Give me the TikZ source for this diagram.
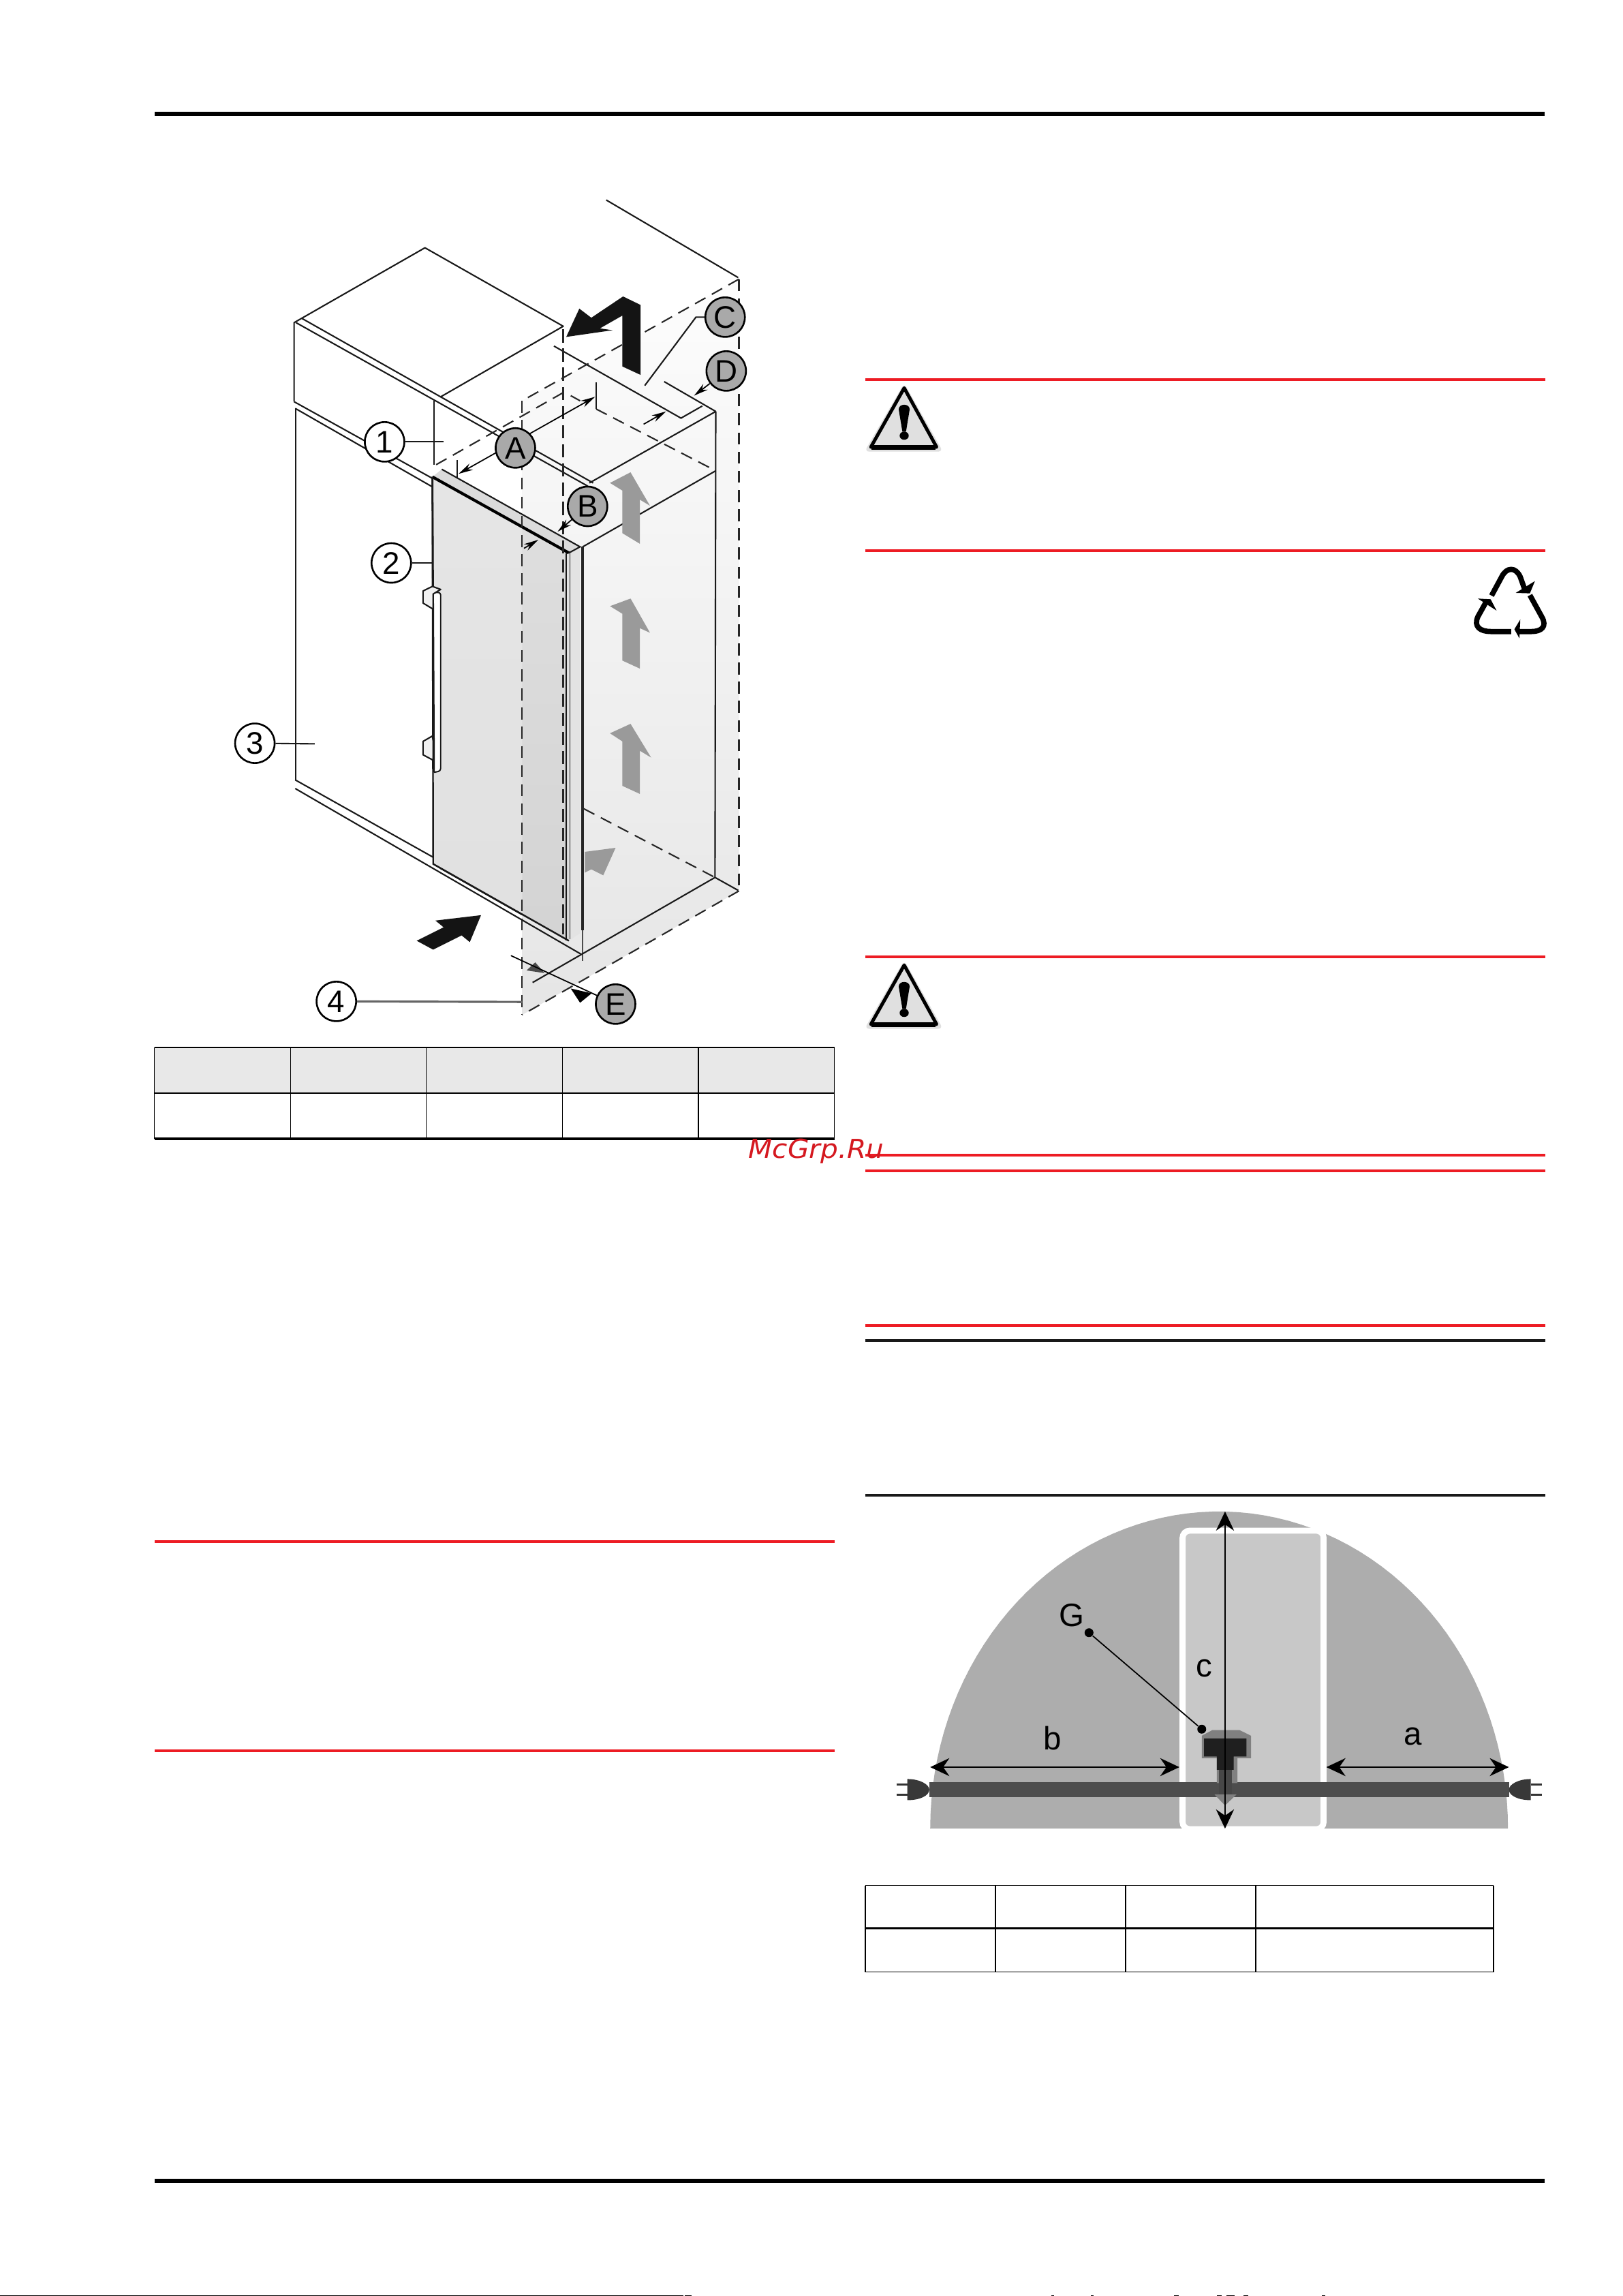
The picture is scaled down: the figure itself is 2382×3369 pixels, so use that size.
\documentclass[tikz,border=0pt]{standalone}
\usepackage{fontspec}
\setmainfont{Liberation Sans}
\newfontfamily\wmfont{DejaVu Sans}
\usetikzlibrary{arrows.meta,shapes.geometric}
\definecolor{redrule}{HTML}{ED1C24}
\definecolor{hdr}{HTML}{E8E8E8}
\definecolor{bub}{HTML}{A9A9A9}
\definecolor{dome}{HTML}{ADADAD}
\definecolor{slab}{HTML}{C8C8C8}
\definecolor{cable}{HTML}{4D4D4D}
\definecolor{upar}{HTML}{9A9A9A}
\tikzset{
 zA/.style={shift={(300,260)},xscale=.5486,yscale=.4464},
 zB/.style={shift={(300,900)},xscale=.5486,yscale=.3954},
 zC/.style={shift={(1250,2180)},xscale=.6698,yscale=.4847},
 zD/.style={shift={(1250,530)},xscale=.6698,yscale=.3333},
 ln/.style={line width=.6pt,black!90},
 dsh/.style={line width=.6pt,black!85,dash pattern=on 5pt off 3pt},
 dshb/.style={line width=.8pt,black!85,dash pattern=on 5.5pt off 2.5pt},
 dimtip/.style={line width=.5pt,-{Stealth[length=6pt,width=3pt]}},
 dimboth/.style={line width=.5pt,{Stealth[length=6pt,width=3pt]}-{Stealth[length=6pt,width=3pt]}},
 numbub/.style={circle,draw,line width=.75pt,fill=white,minimum size=.58cm,inner sep=0pt,font=\fontsize{13}{15}\selectfont},
 letbub/.style={circle,draw,line width=.75pt,fill=bub,minimum size=.58cm,inner sep=0pt,font=\fontsize{13}{15}\selectfont},
 domelab/.style={inner sep=0pt,font=\fontsize{13.5}{15}\selectfont},
 dot/.style={circle,fill=black,minimum size=.13cm,inner sep=0pt},
 bigdim/.style={line width=.6pt,{Stealth[length=8pt,width=7.5pt]}-{Stealth[length=8pt,width=7.5pt]}},
 cellline/.style={line width=.5pt,black},
 uparrow/.style={fill=upar,draw=none},
 recy/.style={line width=2.2pt,line join=round},
}
\begin{document}
\begin{tikzpicture}[x=.01cm,y=-.01cm]
\useasboundingbox (0,0) rectangle (2382,3369);
\fill[white] (0,0) rectangle (2382,3369);

% page rules
\fill[black] (226.5,164) rectangle (2267,170);
\fill[black] (226.5,3197) rectangle (2267,3203);
\foreach \yy in {557,808,1404,1695,1718,1945}
  \fill[redrule] (1270,\yy-2) rectangle (2268,\yy+2);
\foreach \yy in {2262,2569}
  \fill[redrule] (226.5,\yy-2) rectangle (1224.5,\yy+2);
\fill[black!90] (1270,1965) rectangle (2268,1969);
\fill[black!90] (1270,2192) rectangle (2268,2196);
\fill[black] (0,3367.6) rectangle (1003,3369);
\foreach \xa/\xb in {1005/1015,1543/1547,1601/1605,1723/1730,1786/1793,1800/1812,1825/1832,1940/1945}
  \fill[black] (\xa,3367.6) rectangle (\xb,3369);

% shared coordinates of the cabinet drawing
\begin{scope}[zA]
 \coordinate (sTL) at (850,735);
 \coordinate (sTR) at (1430,335);
 \coordinate (v1t) at (960,500);
 \coordinate (v2t) at (1368,770);
 \coordinate (lt)  at (245,760);
 \coordinate (dTL) at (610,985);
 \coordinate (dTR) at (970,1235);
 \coordinate (dSR) at (1005,1215);
 \coordinate (dStrip) at (850,1152);
 \coordinate (thickT) at (1012,1215);
 \coordinate (h1) at (632,1365);
 \coordinate (h2) at (612,1365);
 \coordinate (x1) at (968,1237);
 \coordinate (x2) at (978,1232);
 \coordinate (up2a) at (1140,1385);
 \coordinate (up2b) at (1085,1410);
 \coordinate (up2c) at (1118,1435);
 \coordinate (up2d) at (1165,1435);
\end{scope}
\begin{scope}[zB]
 \coordinate (sBR) at (1430,1030);
 \coordinate (sBL) at (850,1490);
 \coordinate (v1b) at (960,1190);
 \coordinate (v2b) at (1366,980);
 \coordinate (lb)  at (245,620);
 \coordinate (dBL) at (612,930);
 \coordinate (dBR) at (975,1215);
 \coordinate (dSB) at (1005,1187);
 \coordinate (dStripB) at (850,1118);
 \coordinate (thickB) at (1012,1175);
 \coordinate (thinB) at (1012,1290);
 \coordinate (h1b) at (632,585);
 \coordinate (h2b) at (614,590);
 \coordinate (x1b) at (968,1213);
 \coordinate (x2b) at (978,1210);
\end{scope}

% translucent clearance shaft
\shade[top color=black!1,bottom color=black!10] (sTL) -- (sTR) -- (sBR) -- (sBL) -- cycle;

% upper cabinet lines
\begin{scope}[zA]
 \draw[ln,line join=round] (240,738) -- (240,478) -- (590,232) -- (960,490) -- (632,722) -- (262,465);
 \draw[ln] (245,478) -- (1025,1015);
 \draw[ln] (632,722) -- (1040,1005);
 \draw[ln] (615,735) -- (615,945);
 \draw[ln] (240,738) -- (610,990);
 \draw[ln] (243,760) -- (610,1018);
 \draw[ln] (1075,75) -- (1428,330);
 \draw[ln] (935,555) -- (1275,792) -- (1332,752);
 \draw[ln] (1230,672) -- (1368,770);
 \draw[ln] (1368,770) -- (1030,1005);
 \draw[ln] (1368,965) -- (1012,1215);
 \draw[dsh] (620,945) -- (960,708);
 \draw[dsh] (980,718) -- (1005,735);
 \draw[dsh] (1048,762) -- (1368,965);
 \draw[ln] (1048,675) -- (1048,762);
 \draw[ln] (677,930) -- (677,1088);
\end{scope}
\draw[ln] (lt) -- (lb);
\draw[ln] (v2t) -- (v2b);

% door
\shade[top color=black!10,bottom color=black!12] (dTL) -- (dTR) -- (dBR) -- (dBL) -- cycle;
\shade[top color=black!13,bottom color=black!17] (dStrip) -- (dTR) -- (dBR) -- (dStripB) -- cycle;
\fill[black!11] (dTR) -- (dSR) -- (dSB) -- (dBR) -- cycle;
\begin{scope}[zA]
 \fill[black!14] (610,985) -- (635,960) -- (1005,1215) -- (975,1235) -- cycle;
 \draw[line width=1.2pt] (610,985) -- (975,1235);
 \draw[ln] (635,960) -- (1005,1215) -- (975,1235);
\end{scope}
\draw[ln,line width=.7pt] (dTL) -- (dBL) -- (dBR);
\draw[ln,line width=.4pt] (x1) -- (x1b);
\draw[ln,line width=.4pt] (x2) -- (x2b);
\draw[line width=1.2pt,black!85] (thickT) -- (thickB);
\draw[line width=.4pt,black!70] (thickB) -- (thinB);

% handle
\fill[white] (h2) rectangle (h1b);
\draw[ln,line width=.55pt,rounded corners=1pt] (h2) -- (h1) -- (h1b) -- (h2b);
\draw[ln,line width=.8pt] (dTL) -- (h2b);
\begin{scope}[zA]
 \draw[ln,fill=black!6,line join=round] (612,1420) -- (585,1400) -- (585,1360) -- (610,1345) -- (632,1355) -- (612,1370) -- cycle;
\end{scope}
\begin{scope}[zB]
 \draw[ln,fill=black!6,line join=round] (612,545) -- (585,525) -- (585,475) -- (610,455) -- (612,475) -- cycle;
\end{scope}

% vertical dashed lines and edges of the shaft
\draw[dsh] (sTL) -- (sBL);
\draw[dshb] (v1t) -- (v1b);
\draw[dsh] (sTR) -- (sBR);
\draw[dsh] (sTR) -- (sTL);
\draw[dsh] (sBR) -- (sBL);

% grey arrows
\begin{scope}[zA]
 \fill[uparrow] (1140,970) -- (1085,1005) -- (1118,1030) -- (1118,1170) -- (1165,1205) -- (1165,1060) -- (1192,1080) -- cycle;
\end{scope}
\begin{scope}[zB]
 \fill[uparrow] (up2a) -- (up2b) -- (up2c) -- (1118,175) -- (1165,205) -- (1165,55) -- (1192,72) -- cycle;
 \fill[uparrow] (1140,410) -- (1085,445) -- (1118,475) -- (1118,640) -- (1165,670) -- (1165,510) -- (1195,535) -- cycle;
 \fill[uparrow] (1100,870) -- (1018,885) -- (1018,962) -- (1035,950) -- (1067,972) -- cycle;
 \draw[dsh] (1015,725) -- (1366,980);
 \draw[ln] (1366,980) -- (1428,1028);
 \draw[ln] (1366,980) -- (878,1370);
 \draw[ln] (243,650) -- (1008,1265);
 \draw[ln] (243,618) -- (612,905);
 \draw[ln] (630,945) -- (850,1118);
\end{scope}

% black arrows
\begin{scope}[zA]
 \fill[black!92] (968,525) -- (1003,432) -- (1035,462) -- (1120,392) -- (1167,420) -- (1167,650) -- (1118,622) -- (1118,455) -- (1058,497) -- (1092,503) -- cycle;
\end{scope}
\begin{scope}[zB]
 \fill[black!92] (740,1120) -- (618,1140) -- (640,1165) -- (568,1215) -- (612,1248) -- (688,1195) -- (710,1220) -- cycle;
\end{scope}

% labels of the cabinet drawing
\begin{scope}[zA]
 \coordinate (c1) at (640,870);
 \coordinate (c2) at (610,1268);
 \coordinate (aL) at (680,975);
 \coordinate (aR) at (1045,722);
 \coordinate (cK) at (1315,460);
 \coordinate (cE) at (1178,685);
 \coordinate (dA) at (1310,718);
 \coordinate (dB0) at (1175,812);
 \coordinate (dB1) at (1235,770);
 \coordinate (bA0) at (855,1220);
 \coordinate (bA1) at (893,1192);
 \coordinate (bB1) at (945,1165);
 \draw[dimboth] (aL) -- (aR);
 \node[numbub] (n1) at (482,870) {1};
 \node[numbub] (n2) at (500,1268) {2};
 \node[letbub] (A) at (832,890) {A};
 \node[letbub] (B) at (1025,1082) {B};
 \node[letbub] (C) at (1393,460) {C};
 \node[letbub] (D) at (1396,637) {D};
\end{scope}
\begin{scope}[zB]
 \coordinate (c3) at (295,484);
 \coordinate (c4) at (850,1442);
 \coordinate (e0) at (820,1270);
 \node[numbub] (n3) at (135,482) {3};
 \node[numbub] (n4) at (353,1440) {4};
 \node[letbub] (E) at (1100,1450) {E};
 \fill[black!70] (862,1325) -- (885,1295) -- (910,1335) -- cycle;
 \fill[black] (980,1392) -- (1036,1410) -- (1005,1445) -- cycle;
\end{scope}
\draw[ln] (n1) -- (c1);
\draw[ln] (n2) -- (c2);
\draw[ln] (n3) -- (c3);
\draw[line width=.9pt,black!60] (n4) -- (c4);
\draw[ln] (C) -- (cK) -- (cE);
\draw[dimtip] (D) -- (dA);
\draw[dimtip] (dB0) -- (dB1);
\draw[dimtip] (bA0) -- (bA1);
\draw[dimtip] (B) -- (bB1);
\draw[line width=.5pt] (e0) -- (E);

% table 1
\fill[hdr] (226.5,1537) rectangle (1224.5,1604);
\draw[cellline] (226.5,1537) -- (1224.5,1537);
\draw[cellline] (226.5,1604) -- (1224.5,1604);
\draw[line width=.9pt] (226.5,1671) -- (1224.5,1671);
\foreach \xx in {226.5,426.7,625.5,825.3,1025,1224.5}
  \draw[line width=.35pt] (\xx,1537) -- (\xx,1671);

% watermark
\node[text=redrule!90!black,inner sep=0pt,anchor=base west,xscale=1.06,font=\wmfont\itshape\fontsize{10.9}{12}\selectfont] (wm) at (1098,1699) {McGrp.Ru};

% warning icons
\foreach \dy in {0,2541}{
\begin{scope}[zD,shift={(0,\dy)}]
 \fill[black!12,rounded corners=2pt] (115,97) -- (200,398) -- (28,398) -- cycle;
 \draw[line width=1.4pt,line join=round,fill=black!12] (115,118) -- (186,378) -- (42,378) -- cycle;
 \draw[line width=2pt] (44,379) -- (184,379);
 \fill[black] (103,212) .. controls (103,185) and (127,185) .. (127,212) -- (119,310) -- (111,310) -- cycle;
 \fill[black] (115,328) ellipse [x radius=10,y radius=18];
\end{scope}}

% recycling mark
\begin{scope}[zD]
 \draw[recy] (1402,1032) -- (1424,950) .. controls (1435,905) and (1455,905) .. (1465,950) -- (1476,1012);
 \fill[black] (1455,1020) -- (1486,1022) -- (1497,968) -- cycle;
 \draw[recy] (1390,1060) -- (1372,1125) .. controls (1362,1170) and (1378,1190) .. (1400,1190) -- (1445,1190);
 \fill[black] (1372,1045) -- (1400,1048) -- (1413,1098) -- cycle;
 \draw[recy] (1486,1030) -- (1512,1125) .. controls (1525,1170) and (1510,1190) .. (1490,1190) -- (1460,1190);
 \fill[black] (1465,1137) -- (1452,1180) -- (1463,1220) -- cycle;
\end{scope}

% dome drawing
\begin{scope}[zC]
 \fill[dome] plot[domain=180:360,samples=72] ({805+633*cos(\x)},{1038+960*sin(\x)}) -- cycle;
 \draw[white,line width=2.5pt,fill=slab,rounded corners=3pt] (725,136) rectangle (1034,1040);
 \fill[white] (715,1040) rectangle (1043,1050);
 \fill[cable] (170,898) rectangle (1440,942);
 % socket
 \fill[black!50] (790,740) -- (850,740) -- (875,757) -- (875,825) -- (845,825) -- (845,900) -- (800,900) -- (800,825) -- (767,825) -- (767,757) -- cycle;
 \fill[black!50] (795,935) -- (818,968) -- (843,935) -- cycle;
 \fill[black!72] (805,860) rectangle (833,935);
 \fill[black!88] (772,765) -- (865,765) -- (865,820) -- (837,820) -- (837,860) -- (800,860) -- (800,820) -- (772,820) -- cycle;
 % plugs
 \fill[black!78] (122,888) .. controls (150,888) and (170,905) .. (170,920) .. controls (170,938) and (150,952) .. (122,952) -- cycle;
 \fill[black!78] (1488,888) .. controls (1460,888) and (1440,905) .. (1440,920) .. controls (1440,938) and (1460,952) .. (1488,952) -- cycle;
 \draw[line width=.8pt,black!80] (98,905) -- (122,905);
 \draw[line width=.8pt,black!80] (98,936) -- (122,936);
 \draw[line width=.8pt,black!80] (1488,905) -- (1513,905);
 \draw[line width=.8pt,black!80] (1488,936) -- (1513,936);
 % dimensions
 \coordinate (cT) at (818,78);
 \coordinate (cB) at (818,1038);
 \coordinate (bL) at (172,852);
 \coordinate (bR) at (718,852);
 \coordinate (aLf) at (1040,852);
 \coordinate (aRt) at (1440,852);
 \draw[bigdim] (cT) -- (cB);
 \draw[bigdim] (bL) -- (bR);
 \draw[bigdim] (aLf) -- (aRt);
 \node[dot] (g1) at (520,445) {};
 \node[dot] (g2) at (767,737) {};
 \draw[line width=.5pt] (g1) -- (g2);
 \node[domelab] (G) at (482,392) {G};
 \node[domelab] (lc) at (773,552) {c};
 \node[domelab] (lb2) at (440,765) {b};
 \node[domelab] (la) at (1230,760) {a};
\end{scope}

% table 2
\draw[cellline] (1270,2766.5) -- (2192,2766.5);
\draw[line width=.8pt] (1270,2829.5) -- (2192,2829.5);
\draw[cellline] (1270,2893.5) -- (2192,2893.5);
\foreach \xx in {1270,1461,1652,1843,2192}
  \draw[line width=.35pt] (\xx,2766.5) -- (\xx,2893.5);
\end{tikzpicture}
\end{document}
